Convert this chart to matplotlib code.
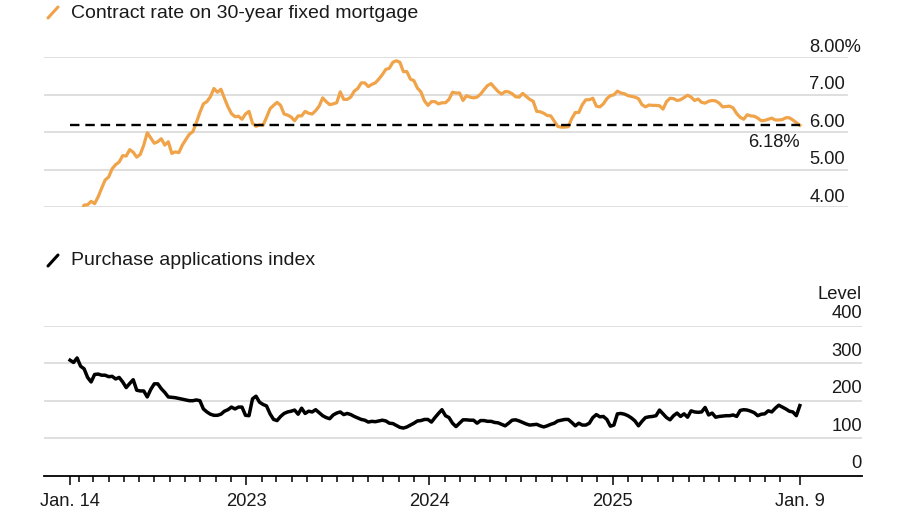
import numpy as np
import pandas as pd
import matplotlib
matplotlib.use("Agg")
import matplotlib.pyplot as plt
import matplotlib.dates as mdates

plt.rcParams['font.family'] = ['Liberation Sans', 'DejaVu Sans']

# weekly data, Jan. 14 2022 .. Jan. 9 2026
dates = pd.date_range('2022-01-14', '2026-01-09', freq='7D')

rate_2022 = [3.52, 3.72, 3.69, 3.83, 4.05, 4.06, 4.15, 4.09, 4.27, 4.50, 4.72,
             4.80, 5.02, 5.13, 5.20, 5.37, 5.36, 5.53, 5.46, 5.33, 5.40, 5.65,
             5.98, 5.84, 5.70, 5.74, 5.82, 5.65, 5.74, 5.43, 5.47, 5.45, 5.65,
             5.80, 5.94, 6.01, 6.25, 6.52, 6.75, 6.81, 6.94, 7.16, 7.06, 7.14,
             6.90, 6.67, 6.49, 6.41, 6.42, 6.34, 6.48]
rate_2023 = [6.55, 6.23, 6.15, 6.19, 6.18, 6.39, 6.62, 6.71, 6.79, 6.71, 6.48,
             6.45, 6.40, 6.30, 6.43, 6.43, 6.55, 6.50, 6.48, 6.57, 6.69, 6.91,
             6.81, 6.73, 6.75, 6.78, 7.07, 6.87, 6.87, 6.93, 7.09, 7.16, 7.31,
             7.31, 7.21, 7.27, 7.31, 7.41, 7.53, 7.67, 7.70, 7.86, 7.90, 7.86,
             7.61, 7.61, 7.41, 7.37, 7.17, 7.07, 6.83, 6.71]
rate_2024 = [6.81, 6.81, 6.75, 6.78, 6.78, 6.87, 7.06, 7.04, 7.04, 6.84, 6.97,
             6.93, 6.91, 6.93, 7.01, 7.13, 7.24, 7.29, 7.18, 7.08, 7.01, 7.08,
             7.07, 7.02, 6.94, 6.93, 7.03, 6.95, 6.87, 6.82, 6.55, 6.54, 6.50,
             6.44, 6.43, 6.29, 6.15, 6.13, 6.13, 6.14, 6.36, 6.52, 6.52, 6.73,
             6.86, 6.86, 6.90, 6.69, 6.67, 6.75, 6.89, 6.97]
rate_2025 = [6.99, 7.09, 7.04, 7.02, 6.97, 6.95, 6.93, 6.89, 6.73, 6.67, 6.72,
             6.71, 6.71, 6.70, 6.61, 6.81, 6.90, 6.89, 6.84, 6.86, 6.92, 6.98,
             6.93, 6.84, 6.88, 6.79, 6.77, 6.82, 6.84, 6.83, 6.77, 6.67, 6.68,
             6.69, 6.64, 6.49, 6.39, 6.34, 6.46, 6.43, 6.42, 6.37, 6.30, 6.31,
             6.34, 6.37, 6.32, 6.32, 6.33, 6.38, 6.38, 6.32, 6.25, 6.18]

purch_2022 = [308, 302, 314, 292, 285, 262, 250, 270, 271, 268, 268, 264, 265,
              258, 262, 250, 235, 246, 256, 228, 226, 226, 210, 230, 245, 245,
              232, 222, 210, 209, 208, 206, 204, 202, 200, 200, 202, 200, 178,
              170, 164, 161, 161, 164, 172, 176, 183, 178, 183, 183, 161]
purch_2023 = [160, 205, 212, 196, 190, 186, 165, 150, 147, 158, 166, 170, 172,
              175, 164, 180, 166, 172, 170, 176, 168, 160, 155, 152, 162, 167,
              170, 163, 166, 163, 158, 154, 150, 148, 143, 145, 144, 146, 148,
              146, 140, 139, 134, 129, 127, 130, 135, 140, 146, 147, 150, 150]
purch_2024 = [143, 155, 166, 176, 160, 155, 140, 131, 140, 149, 149, 148, 148,
              140, 147, 147, 145, 145, 142, 141, 137, 133, 140, 148, 149, 146,
              142, 138, 135, 136, 137, 133, 130, 133, 137, 140, 146, 148, 150,
              150, 142, 133, 140, 135, 135, 140, 155, 163, 157, 158, 150, 132]
purch_2025 = [135, 165, 166, 164, 160, 154, 146, 133, 145, 155, 157, 158, 160,
              175, 165, 155, 149, 160, 167, 158, 165, 156, 173, 170, 169, 170,
              182, 162, 167, 156, 158, 159, 160, 160, 162, 158, 174, 176, 175,
              172, 168, 160, 164, 165, 173, 170, 180, 188, 183, 178, 172, 170,
              160, 187]

rate = np.array(rate_2022 + rate_2023 + rate_2024 + rate_2025)
purchase = np.array(purch_2022 + purch_2023 + purch_2024 + purch_2025)
latest_rate = 6.18

rate_ticks = [4, 5, 6, 7, 8]
rate_labels = ['4.00', '5.00', '6.00', '7.00', '8.00%']
level_ticks = [0, 100, 200, 300, 400]

orange = '#F0A348'
grid_c = '#DCDCDC'
text_c = '#1a1a1a'
fs = 13.2

x0 = pd.Timestamp('2021-11-23')
x1 = pd.Timestamp('2026-05-13')

fig = plt.figure(figsize=(9, 5.1), dpi=100)
ax1 = fig.add_axes([44 / 900, 1 - 208 / 510, 818 / 900, 150 / 510])
ax2 = fig.add_axes([44 / 900, 1 - 476.7 / 510, 818 / 900, 150 / 510])

# top panel: mortgage rate
ax1.set_xlim(x0, x1)
ax1.set_ylim(4, 8)
for t in rate_ticks:
    ax1.axhline(t, xmin=0, xmax=803 / 818, color=grid_c, lw=1.3, zorder=1)
ax1.plot(dates, rate, color=orange, lw=2.3, zorder=3, solid_joinstyle='round')
ax1.plot([dates[0], dates[-1]], [latest_rate, latest_rate], color='black',
         lw=1.7, dashes=(4.0, 2.5), zorder=4)
ax1.annotate('6.18%', (dates[-1], latest_rate), xytext=(0, -15),
             textcoords='offset points', ha='right', va='baseline',
             fontsize=fs, color=text_c)
for t, lab in zip(rate_ticks, rate_labels):
    ax1.annotate(lab, (1, t), xycoords=('axes fraction', 'data'),
                 xytext=(-38, 4.5), textcoords='offset points', ha='left',
                 va='baseline', fontsize=fs, color=text_c, annotation_clip=False)
ax1.axis('off')

# bottom panel: purchase index
ax2.set_xlim(x0, x1)
ax2.set_ylim(0, 400)
for t in level_ticks[1:]:
    ax2.axhline(t, color=grid_c, lw=1.3, zorder=1)
ax2.plot(dates, purchase, color='black', lw=2.5, zorder=3, solid_joinstyle='round')
for t in level_ticks:
    ax2.annotate(str(t), (1, t), xycoords=('axes fraction', 'data'),
                 xytext=(0, 6), textcoords='offset points', ha='right',
                 va='baseline', fontsize=fs, color=text_c, annotation_clip=False)
ax2.annotate('Level', (1, 400), xycoords=('axes fraction', 'data'),
             xytext=(0, 20), textcoords='offset points', ha='right',
             va='baseline', fontsize=fs, color=text_c, annotation_clip=False)

for s in ['top', 'left', 'right']:
    ax2.spines[s].set_visible(False)
ax2.spines['bottom'].set_linewidth(1.3)
ax2.set_yticks([])

major = [pd.Timestamp('2022-01-14'), pd.Timestamp('2023-01-01'),
         pd.Timestamp('2024-01-01'), pd.Timestamp('2025-01-01'),
         pd.Timestamp('2026-01-09')]
major_labels = ['Jan. 14', '2023', '2024', '2025', 'Jan. 9']
minor = [d for d in pd.date_range('2022-02-01', '2025-12-01', freq='MS')
         if d.month != 1]
ax2.set_xticks(major)
ax2.set_xticklabels(major_labels)
ax2.set_xticks(minor, minor=True)
ax2.tick_params(axis='x', which='major', length=6.5, width=1.1, pad=5,
                labelsize=fs, labelcolor=text_c)
ax2.tick_params(axis='x', which='minor', length=4, width=1.1)

# legend-style headers
fig.text(71 / 900, 1 - 13 / 510, 'Contract rate on 30-year fixed mortgage',
         fontsize=14, color=text_c, va='center', ha='left')
fig.text(71 / 900, 1 - 261 / 510, 'Purchase applications index',
         fontsize=14, color=text_c, va='center', ha='left')
fig.add_artist(plt.Line2D([48 / 900, 58 / 900], [1 - 19 / 510, 1 - 8 / 510],
                          color=orange, lw=2.2, solid_capstyle='round'))
fig.add_artist(plt.Line2D([48 / 900, 58 / 900], [1 - 267 / 510, 1 - 256 / 510],
                          color='black', lw=2.2, solid_capstyle='round'))

fig.savefig('out.png', dpi=100, facecolor='white')
